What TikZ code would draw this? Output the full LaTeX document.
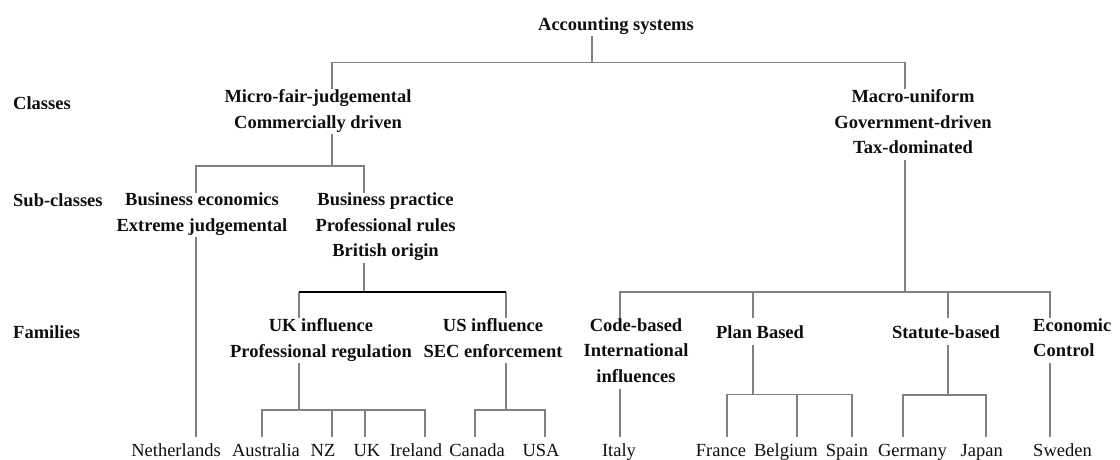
\documentclass[tikz,border=0pt]{standalone}
\usepackage{fontspec}
\setmainfont{Liberation Serif}
\usepackage{tikz}
\definecolor{linegray}{RGB}{128,128,128}
\definecolor{textdark}{RGB}{15,15,15}
\tikzset{
  grp/.style={inner sep=0pt, align=center, text=textdark,
    font=\fontsize{18.5}{25.5}\selectfont\bfseries,
    execute at begin node={\rule{0pt}{#1}},
    execute at end node={\rule[-6pt]{0pt}{6pt}}},
  grp/.default=20pt,
  ctry/.style={inner sep=0pt, anchor=north, text=textdark,
    font=\fontsize{18.5}{25.5}\selectfont,
    execute at begin node={\rule{0pt}{20pt}}},
  rowlbl/.style={inner sep=0pt, anchor=base west, text=textdark,
    font=\fontsize{18.5}{25.5}\selectfont\bfseries},
  link/.style={draw=linegray, line width=1.8pt},
  blackbar/.style={draw=black, line width=1.8pt}
}
\begin{document}
\begin{tikzpicture}[x=1pt, y=-1pt]
  \useasboundingbox (0,0) rectangle (1120,459);

  % Root
  \node[grp, anchor=base] (acc) at (616,30) {Accounting systems};

  % Row labels
  \node[rowlbl] (lclass) at (13,109.3) {Classes};
  \node[rowlbl] (lsub) at (13,206.7) {Sub-classes};
  \node[rowlbl] (lfam) at (13,338.3) {Families};

  % Classes
  \node[grp, anchor=north] (micro) at (318,89.3) {Micro-fair-judgemental\\Commercially driven};
  \node[grp, anchor=north] (macro) at (913,89.3) {Macro-uniform\\Government-driven\\Tax-dominated};

  % Sub-classes
  \node[grp=14pt, anchor=north] (bizecon) at (202,192.7) {Business economics\\Extreme judgemental};
  \node[grp=14pt, anchor=north] (bizprac) at (385.5,192.7) {Business practice\\Professional rules\\British origin};

  % Families
  \node[grp, anchor=north] (ukinf) at (321,318.3) {UK influence\\Professional regulation};
  \node[grp, anchor=north] (usinf) at (493,318.3) {US influence\\SEC enforcement};
  \node[grp, anchor=north] (code) at (636,318.3) {Code-based\\International\\influences};
  \node[grp, anchor=north] (plan) at (760,318.3) {Plan Based};
  \node[grp, anchor=north] (statute) at (946,318.3) {Statute-based};
  \node[grp, anchor=north west, align=left] (econ) at (1033,318.3) {Economic\\Control};

  % Countries
  \foreach \n/\x/\t in {nl/176/Netherlands, aus/266/Australia, nz/323/NZ, uk/367/UK,
      ire/416/Ireland, can/477/Canada, usa/541/USA, ita/619/Italy, fra/721/France,
      bel/786/Belgium, spa/847/Spain, ger/912.5/Germany, jap/981.7/Japan, swe/1062.5/Sweden}
    \node[ctry] (\n) at (\x,436.7) {\t};

  % Bars
  \coordinate (rootL) at (332,62.5);
  \coordinate (rootC) at (592,62.5);
  \coordinate (rootR) at (904.6,62.5);
  \coordinate (subL) at (195.7,166);
  \coordinate (subC) at (332,166);
  \coordinate (subR) at (364.3,166);
  \coordinate (famA) at (299.3,292);
  \coordinate (famB) at (364.3,292);
  \coordinate (famC) at (506,292);
  \coordinate (macA) at (620,292);
  \coordinate (macB) at (752.7,292);
  \coordinate (macC) at (904.6,292);
  \coordinate (macD) at (947.7,292);
  \coordinate (macE) at (1050,292);
  \coordinate (ukA) at (262.3,410);
  \coordinate (ukB) at (299.3,410);
  \coordinate (ukC) at (332.3,410);
  \coordinate (ukD) at (365,410);
  \coordinate (ukE) at (425,410);
  \coordinate (usA) at (475,410);
  \coordinate (usB) at (506,410);
  \coordinate (usC) at (544.6,410);
  \coordinate (plA) at (726.7,394.5);
  \coordinate (plB) at (752.7,394.5);
  \coordinate (plC) at (796.7,394.5);
  \coordinate (plD) at (851.7,394.5);
  \coordinate (stA) at (903.3,395);
  \coordinate (stB) at (947.7,395);
  \coordinate (stC) at (985.7,395);

  % Upper tree
  \draw[link] (acc.south -| rootC) -- (rootC);
  \draw[link] (micro.north -| rootL) -- (rootL) -- (rootR) -- (macro.north -| rootR);
  \draw[link] (micro.south -| subC) -- (subC);
  \draw[link] (bizecon.north -| subL) -- (subL) -- (subR) -- (bizprac.north -| subR);
  \draw[link] (bizecon.south -| subL) -- (nl.north -| subL);
  \draw[link] (bizprac.south -| famB) -- (famB);
  \draw[link] (ukinf.north -| famA) -- (famA);
  \draw[link] (usinf.north -| famC) -- (famC);
  \draw[blackbar] (famA) -- (famC);
  \draw[link] (macro.south -| macC) -- (macC);
  \draw[link] (code.north -| macA) -- (macA) -- (macE) -- (econ.north -| macE);
  \draw[link] (macB) -- (plan.north -| macB);
  \draw[link] (macD) -- (statute.north -| macD);

  % UK and US
  \draw[link] (ukinf.south -| ukB) -- (ukB);
  \draw[link] (aus.north -| ukA) -- (ukA) -- (ukE) -- (ire.north -| ukE);
  \draw[link] (ukC) -- (nz.north -| ukC);
  \draw[link] (ukD) -- (uk.north -| ukD);
  \draw[link] (usinf.south -| usB) -- (usB);
  \draw[link] (can.north -| usA) -- (usA) -- (usC) -- (usa.north -| usC);

  % Code, plan, statute, economic
  \draw[link] (code.south -| macA) -- (ita.north -| macA);
  \draw[link] (plan.south -| plB) -- (plB);
  \draw[link] (fra.north -| plA) -- (plA) -- (plD) -- (spa.north -| plD);
  \draw[link] (plC) -- (bel.north -| plC);
  \draw[link] (statute.south -| stB) -- (stB);
  \draw[link] (ger.north -| stA) -- (stA) -- (stC) -- (jap.north -| stC);
  \draw[link] (econ.south -| macE) -- (swe.north -| macE);
\end{tikzpicture}
\end{document}
